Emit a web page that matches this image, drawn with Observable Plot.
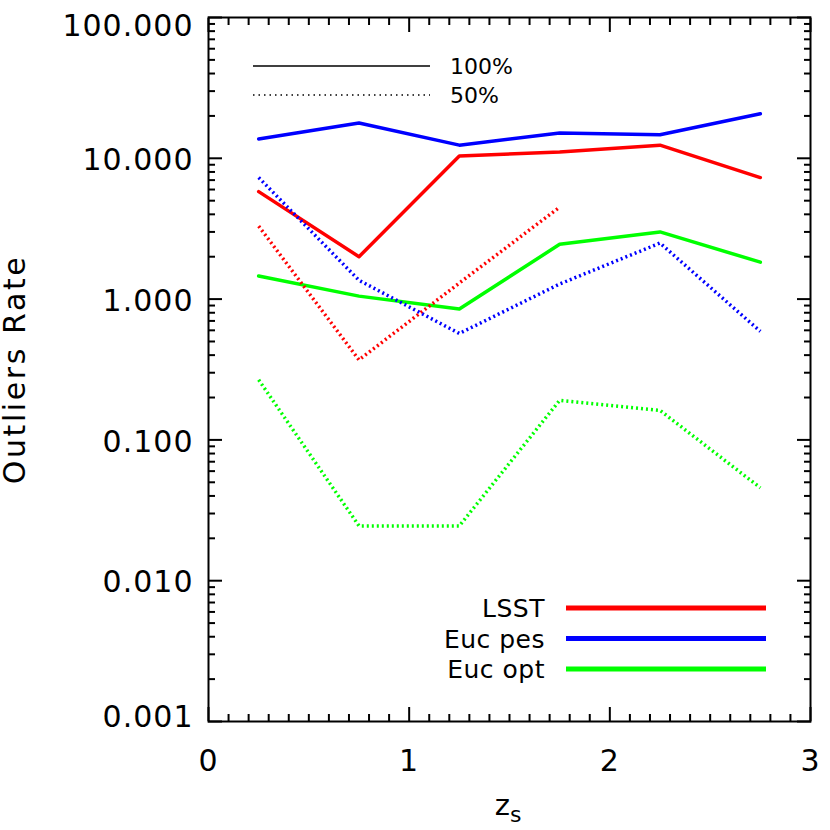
<!DOCTYPE html>
<html><head><meta charset="utf-8">
<script src="https://cdn.jsdelivr.net/npm/d3@7"></script>
<script src="https://cdn.jsdelivr.net/npm/@observablehq/plot@0.6"></script>
<style>
html,body{margin:0;padding:0;background:#fff;}
#chart{width:830px;height:830px;}
</style></head><body><div id="chart"></div>
<script>
// ---- data ----
const zBins = [0.25, 0.75, 1.25, 1.75, 2.25, 2.75];
const surveys = ["LSST", "Euc pes", "Euc opt"];
const surveyColors = ["#ff0000", "#0000ff", "#00ff00"];
const samples = ["100%", "50%"];
const lsst100   = [5.8, 2.0, 10.4, 11.1, 12.4, 7.3];
const eucPes100 = [13.7, 17.8, 12.4, 15.1, 14.7, 20.7];
const eucOpt100 = [1.46, 1.05, 0.85, 2.45, 3.0, 1.83];
const lsst50    = [3.3, 0.37, 1.3, 4.5];
const eucPes50  = [7.3, 1.36, 0.57, 1.28, 2.5, 0.59];
const eucOpt50  = [0.267, 0.0245, 0.0245, 0.191, 0.162, 0.0457];
const xMajorTicks = [0, 1, 2, 3];
const xTickLabels = ["0", "1", "2", "3"];
const yMajorTicks = [0.001, 0.01, 0.1, 1, 10, 100];
const yTickLabels = ["0.001", "0.010", "0.100", "1.000", "10.000", "100.000"];
const yTitle = "Outliers Rate";

// minor ticks
const xMinorTicks = d3.range(1, 30).filter(k => k % 10 !== 0).map(k => k / 10);
const yMinorTicks = [];
yMajorTicks.slice(0, -1).forEach(d => { for (let k = 2; k <= 9; k++) yMinorTicks.push(d * k); });

// ---- table ----
const seriesTable = [
  {survey: "LSST", sample: "100%", values: lsst100},
  {survey: "Euc pes", sample: "100%", values: eucPes100},
  {survey: "Euc opt", sample: "100%", values: eucOpt100},
  {survey: "LSST", sample: "50%", values: lsst50},
  {survey: "Euc pes", sample: "50%", values: eucPes50},
  {survey: "Euc opt", sample: "50%", values: eucOpt50}
];
const rows = seriesTable.flatMap(s => s.values.map((v, i) => ({survey: s.survey, sample: s.sample, z: zBins[i], rate: v})));
const yLabelRows = yMajorTicks.map((v, i) => ({v, label: yTickLabels[i], i}));
const last = yMajorTicks.length - 1;

const FONT = "DejaVu Sans";

const plot = Plot.plot({
  width: 830, height: 830,
  marginLeft: 208, marginRight: 20, marginTop: 17, marginBottom: 109,
  style: {fontFamily: FONT, background: "white", color: "black", overflow: "visible"},
  x: {domain: [0, 3], label: null},
  y: {type: "log", domain: [0.001, 100], label: null},
  color: {domain: surveys, range: surveyColors},
  marks: [
    Plot.line(rows.filter(d => d.sample === "100%"), {x: "z", y: "rate", z: "survey", stroke: "survey", strokeWidth: 3.5}),
    Plot.line(rows.filter(d => d.sample === "50%"), {x: "z", y: "rate", z: "survey", stroke: "survey", strokeWidth: 3.5, strokeDasharray: "2,3", strokeLinecap: "butt", strokeLinejoin: "miter"}),
    Plot.frame({strokeWidth: 2}),
    // ticks (inward)
    Plot.axisX(xMajorTicks, {anchor: "bottom", tickSize: -14, strokeWidth: 2, tickFormat: () => "", label: null}),
    Plot.axisX(xMinorTicks, {anchor: "bottom", tickSize: -7, strokeWidth: 2, tickFormat: () => "", label: null}),
    Plot.axisX(xMajorTicks, {anchor: "top", tickSize: -14, strokeWidth: 2, tickFormat: () => "", label: null}),
    Plot.axisX(xMinorTicks, {anchor: "top", tickSize: -7, strokeWidth: 2, tickFormat: () => "", label: null}),
    Plot.axisY(yMajorTicks, {anchor: "left", tickSize: -14, strokeWidth: 2, tickFormat: () => "", label: null}),
    Plot.axisY(yMinorTicks, {anchor: "left", tickSize: -7, strokeWidth: 2, tickFormat: () => "", label: null}),
    Plot.axisY(yMajorTicks, {anchor: "right", tickSize: -14, strokeWidth: 2, tickFormat: () => "", label: null}),
    Plot.axisY(yMinorTicks, {anchor: "right", tickSize: -7, strokeWidth: 2, tickFormat: () => "", label: null}),
    // tick labels
    Plot.axisX(xMajorTicks, {anchor: "bottom", tickSize: 0, tickPadding: 28, fontSize: 30, tickFormat: (d, i) => xTickLabels[i], label: null}),
    Plot.text(yLabelRows.filter(d => d.i > 0 && d.i < last), {y: "v", text: "label", frameAnchor: "left", dx: -15, dy: 2, textAnchor: "end", lineAnchor: "middle", fontSize: 30}),
    Plot.text(yLabelRows.filter(d => d.i === last), {y: "v", text: "label", frameAnchor: "left", dx: -15, dy: 9, textAnchor: "end", lineAnchor: "middle", fontSize: 30}),
    Plot.text(yLabelRows.filter(d => d.i === 0), {y: "v", text: "label", frameAnchor: "left", dx: -15, dy: -4, textAnchor: "end", lineAnchor: "middle", fontSize: 30}),
    // y title
    Plot.text([yTitle], {text: d => d, frameAnchor: "left", rotate: -90, dx: -193, fontSize: 30, textAnchor: "middle", lineAnchor: "middle"})
  ]
});
document.getElementById("chart").appendChild(plot);

// ---- legends and x title ----
const svg = d3.select(plot);
svg.selectAll("text").style("letter-spacing", "1px");
svg.selectAll("text").filter(function () { return this.textContent === yTitle; }).style("letter-spacing", "2.6px");
const g = svg.append("g").attr("font-family", FONT).attr("fill", "black").attr("text-anchor", "start");
samples.forEach((s, i) => {
  const y = 66 + i * 29;
  g.append("line").attr("x1", 253).attr("x2", 430).attr("y1", y).attr("y2", y)
    .attr("stroke", "black").attr("stroke-width", 1.5)
    .attr("stroke-dasharray", i ? "1.5,4" : null);
  g.append("text").attr("x", 450).attr("y", y).attr("dy", "0.36em").attr("text-anchor", "start")
    .attr("font-size", 22).text(s);
});
surveys.forEach((s, i) => {
  const y = 608 + i * 30.5;
  g.append("line").attr("x1", 566).attr("x2", 766).attr("y1", y).attr("y2", y)
    .attr("stroke", surveyColors[i]).attr("stroke-width", 5);
  g.append("text").attr("x", 545).attr("y", y).attr("dy", "0.36em").attr("text-anchor", "end")
    .attr("font-size", 25).style("letter-spacing", "0.5px").text(s);
});
const xt = g.append("text").attr("x", 508).attr("y", 815).attr("text-anchor", "middle").attr("font-size", 29);
xt.append("tspan").text("z");
xt.append("tspan").attr("font-size", 22).attr("dy", 7).text("s");
</script>
</body></html>
